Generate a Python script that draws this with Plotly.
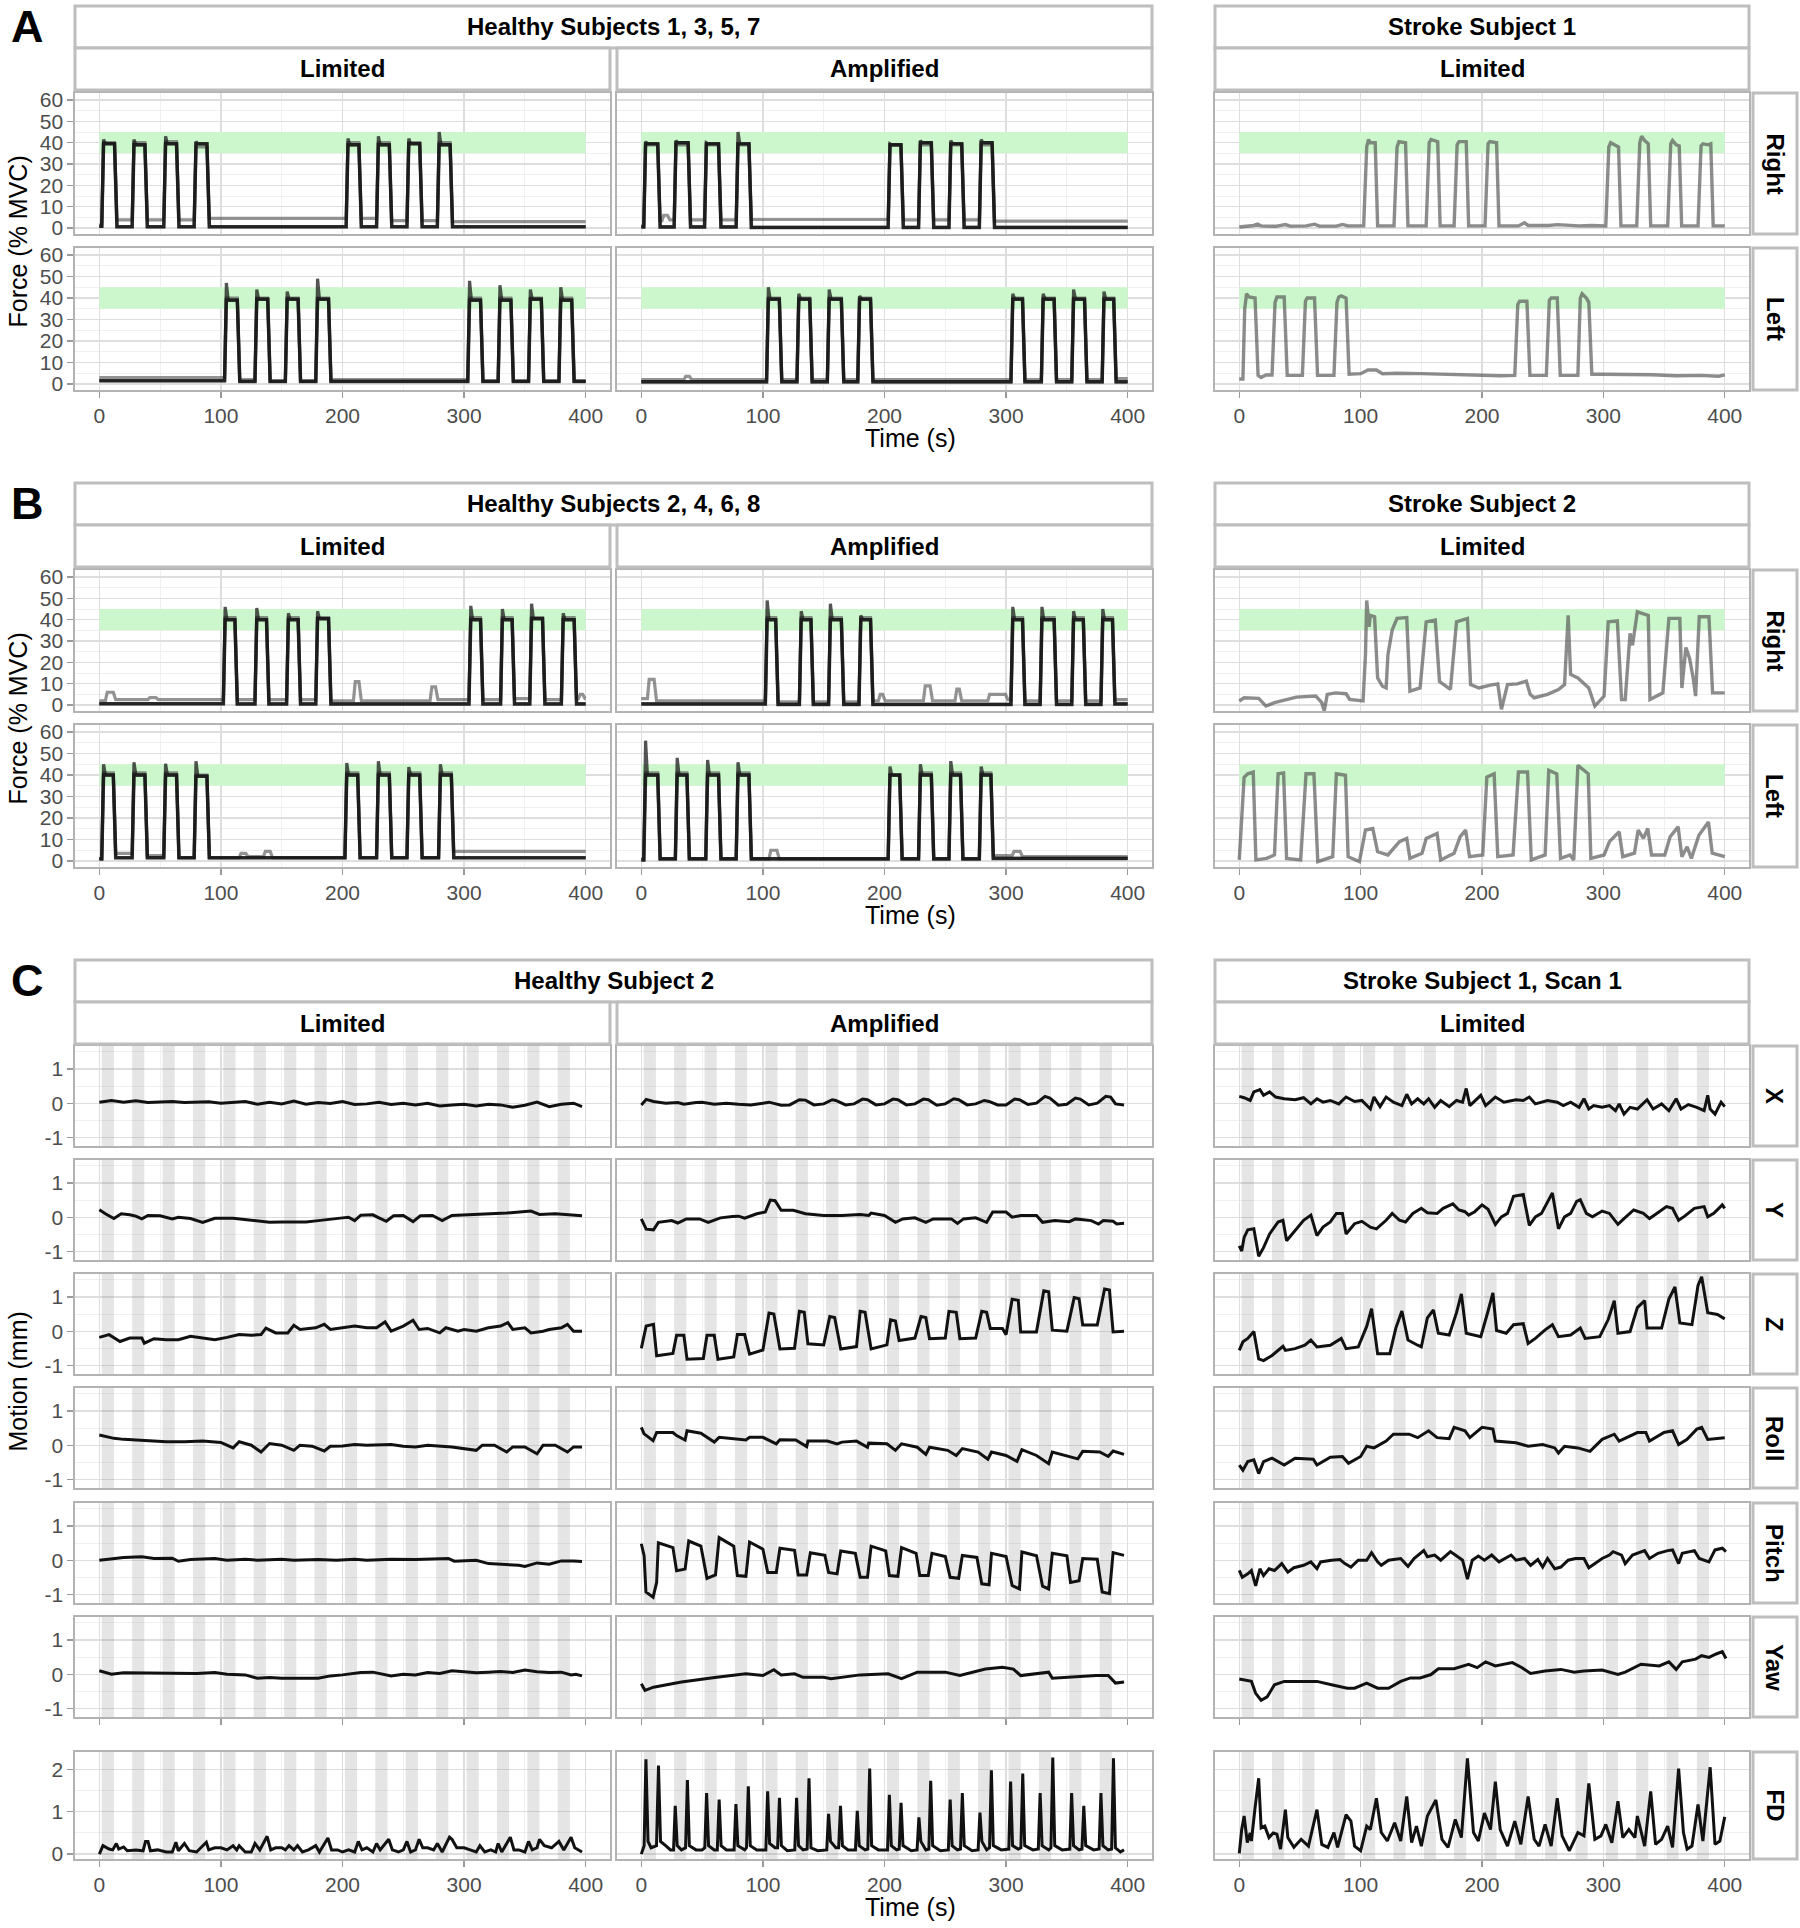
import plotly.graph_objects as go

W, H = 1800, 1928
FONT = "Liberation Sans, Arial, Helvetica, sans-serif"

# ------------------------------------------------------------------ data
X_TICKS = [0, 100, 200, 300, 400]
X_MINOR = [50, 150, 250, 350]
FORCE_TICKS = [0, 10, 20, 30, 40, 50, 60]
FORCE_MINOR = [5, 15, 25, 35, 45, 55]
MOTION_TICKS = [-1, 0, 1]
MOTION_MINOR = [-0.5, 0.5, 1.5]
FD_TICKS = [0, 1, 2]
FD_MINOR = [0.5, 1.5]
TARGET_LO, TARGET_HI = 35, 45
BAND_ON = [2, 27, 52, 77, 102, 127, 152, 177, 202, 227, 252, 277, 302, 327, 352, 377]
BAND_OFF = [12, 37, 62, 87, 112, 137, 162, 187, 212, 237, 262, 287, 312, 337, 362, 387]

# ---- Panel A, healthy subjects 1,3,5,7 : block onsets / offsets / levels (% MVC)
A_LR_ON = [2, 27, 53, 78, 203, 228, 253, 278]
A_LR_OFF = [13, 38, 64, 89, 214, 239, 264, 289]
A_LR_DK_BASE = [0.8, 0.6, 0.6, 0.6, 0.6, 0.6, 0.6, 0.6, 0.6]
A_LR_DK_TOP = [39.5, 39, 39.5, 39.5, 39, 39, 39.5, 39]
A_LR_DK_PEAK = [41.5, 41.5, 43, 40.5, 42, 43, 42, 45]
A_LR_GR_ON = A_LR_ON
A_LR_GR_OFF = A_LR_OFF
A_LR_GR_BASE = [1.5, 3.8, 3.8, 3.8, 4.5, 4.5, 3.5, 3.5, 3]
A_LR_GR_TOP = [40, 40, 40.5, 38, 40, 40, 40, 40]

A_LL_ON = [103, 128, 153, 178, 303, 328, 353, 378]
A_LL_OFF = [114, 139, 164, 189, 314, 339, 364, 389]
A_LL_DK_BASE = [1.5, 1.2, 1.2, 1.2, 1.2, 1.2, 1.2, 1.2, 1.2]
A_LL_DK_TOP = [39, 39.5, 39.5, 39.5, 39, 39, 39.5, 39]
A_LL_DK_PEAK = [47, 44, 43, 49, 48, 46, 44, 45]
A_LL_GR_ON = A_LL_ON
A_LL_GR_OFF = A_LL_OFF
A_LL_GR_BASE = [3, 2, 1.5, 1.5, 2, 1.5, 1.5, 1.5, 1.5]
A_LL_GR_TOP = [40, 40, 40, 40, 40, 40, 40, 40]

A_AR_ON = [2, 27, 52, 78, 203, 228, 253, 278]
A_AR_OFF = [14, 39, 64, 89, 214, 239, 264, 289]
A_AR_DK_BASE = [0.5, 0.5, 0.5, 0.5, 0.3, 0.3, 0.3, 0.3, 0.3]
A_AR_DK_TOP = [39.5, 40, 39.5, 39.5, 39, 40, 39.5, 40]
A_AR_DK_PEAK = [40.5, 41, 40, 45, 39.5, 41, 41, 41.5]
A_AR_GR_ON = [2, 17, 27, 52, 78, 203, 228, 253, 278]
A_AR_GR_OFF = [14, 22, 39, 64, 89, 214, 239, 264, 289]
A_AR_GR_BASE = [1, 3.5, 3.8, 3.8, 3.8, 4, 3.8, 3.8, 3.8, 3.2]
A_AR_GR_TOP = [39, 6, 39, 39, 39, 39, 39, 39, 39]

A_AL_ON = [103, 128, 153, 178, 304, 329, 354, 379]
A_AL_OFF = [114, 139, 165, 189, 314, 340, 365, 389]
A_AL_DK_BASE = [1, 1, 1, 1, 1, 1, 1, 1, 1]
A_AL_DK_TOP = [39.5, 39.5, 39.5, 39.5, 39.5, 39.5, 39.5, 39.5]
A_AL_DK_PEAK = [45, 42, 44, 41, 42, 42, 44, 43]
A_AL_GR_ON = [35, 103, 128, 153, 178, 304, 329, 354, 379]
A_AL_GR_OFF = [40, 114, 139, 165, 189, 314, 340, 365, 389]
A_AL_GR_BASE = [2, 2, 2, 2, 2, 2, 2, 2, 2, 2.5]
A_AL_GR_TOP = [3.5, 40, 40, 40, 40, 40, 40, 40, 40]

# ---- Panel B, healthy subjects 2,4,6,8
B_LR_ON = [102, 128, 154, 178, 304, 330, 354, 380]
B_LR_OFF = [112, 138, 164, 189, 314, 340, 365, 391]
B_LR_DK_BASE = [0.6, 0.5, 0.5, 0.5, 0.5, 0.5, 0.5, 0.5, 0.5]
B_LR_DK_TOP = [40, 40, 40, 40.5, 40, 40, 40.5, 40]
B_LR_DK_PEAK = [46, 45.5, 43, 44, 46.5, 45, 47.5, 43]
B_LR_GR_ON = [5, 40, 102, 128, 154, 178, 209, 272, 304, 330, 354, 380, 394]
B_LR_GR_OFF = [12, 47, 112, 138, 164, 189, 214, 277, 314, 340, 365, 391, 398]
B_LR_GR_BASE = [2, 2.5, 2.5, 2.5, 2.5, 2.5, 2, 2, 2.5, 2.5, 3, 2.5, 3, 3]
B_LR_GR_TOP = [6, 3.5, 41, 41, 41, 41, 11, 8.5, 41, 41, 41, 41, 5]

B_LL_ON = [2, 27, 53, 78, 202, 228, 253, 279]
B_LL_OFF = [12, 38, 64, 89, 213, 239, 264, 290]
B_LL_DK_BASE = [1, 1.5, 1.5, 1.5, 1.5, 1.5, 1.5, 1.5, 1.5]
B_LL_DK_TOP = [40, 40, 40, 39.5, 40, 40, 40, 40]
B_LL_DK_PEAK = [45, 46, 45.3, 46.4, 45.6, 46.4, 43.7, 45]
B_LL_GR_ON = [2, 27, 53, 78, 115, 135, 202, 228, 253, 279]
B_LL_GR_OFF = [12, 38, 64, 89, 121, 141, 213, 239, 264, 290]
B_LL_GR_BASE = [1, 3.5, 2.5, 1.5, 1.5, 2, 1.5, 1.5, 1.5, 1.5, 4.5]
B_LL_GR_TOP = [41, 41, 41, 40, 3.5, 4.5, 41, 41, 41, 41]

B_AR_ON = [102, 130, 154, 179, 304, 328, 354, 378]
B_AR_OFF = [111, 140, 165, 189, 314, 340, 364, 388]
B_AR_DK_BASE = [0.5, 0.3, 0.3, 0.3, 0.3, 0.3, 0.3, 0.3, 0.5]
B_AR_DK_TOP = [40, 40, 40, 40, 40, 40, 40, 40]
B_AR_DK_PEAK = [49, 44, 47.5, 42, 46, 46, 44, 45]
B_AR_GR_ON = [5, 102, 130, 154, 179, 195, 232, 258, 285, 304, 328, 354, 378]
B_AR_GR_OFF = [11, 111, 140, 165, 189, 199, 238, 262, 300, 314, 340, 364, 388]
B_AR_GR_BASE = [3, 2, 1.5, 1.5, 1.5, 2, 2, 2, 2, 2.5, 2, 2, 2, 2.5]
B_AR_GR_TOP = [12, 41, 41, 41, 41, 5, 9, 7.5, 5, 41, 41, 41, 41]

B_AL_ON = [2, 28, 53, 78, 203, 228, 253, 278]
B_AL_OFF = [14, 38, 64, 89, 213, 239, 263, 288]
B_AL_DK_BASE = [0.5, 1, 1, 1, 1, 1, 1, 1, 1.2]
B_AL_DK_TOP = [40, 40, 40, 40, 40, 40, 40, 40]
B_AL_DK_PEAK = [56, 48, 47, 46, 44, 45, 46.5, 44]
B_AL_GR_ON = [2, 28, 53, 78, 105, 203, 228, 253, 278, 305]
B_AL_GR_OFF = [14, 38, 64, 89, 112, 213, 239, 263, 288, 312]
B_AL_GR_BASE = [1, 1, 1, 1, 1, 1, 1, 1, 1, 2.5, 2]
B_AL_GR_TOP = [41, 41, 41, 41, 5, 40, 41, 41, 41, 4.5]

# ---- stroke force traces (time s, % MVC)
S1_RIGHT = [(0, 0.5), (5, 0.8), (12, 1.2), (15, 1.8), (18, 1), (30, 0.8), (38, 1.6), (42, 0.9), (55, 1), (62, 1.8),
            (66, 0.9), (80, 0.9), (85, 1.7), (89, 1.1), (102.5, 1), (105, 38), (106.5, 41.5), (108, 40), (112, 40),
            (114, 1), (127.5, 1), (130, 38), (131.5, 40.5), (137, 40), (139, 1), (154, 1), (156.5, 40), (158, 41.5),
            (163.5, 40.5), (165.5, 1), (177, 1), (179.5, 39), (181, 40.5), (187, 40.5), (189, 1), (202.5, 1),
            (205, 39.5), (206.5, 40.5), (212, 40), (214, 1), (230, 1), (235, 2.5), (238, 1.2), (255, 1.2),
            (262, 1.6), (280, 1), (290, 1.2), (302, 1), (304.5, 38), (306, 40), (310, 38.5), (312.5, 38),
            (314.5, 1), (327.5, 1), (330, 40), (331.5, 43), (334, 41), (337, 39.5), (339, 1), (353, 1),
            (355.5, 39.5), (357, 41), (360, 39), (362.5, 38.5), (364.5, 1), (378, 1), (380.5, 38.5), (382, 39.5),
            (386.5, 39), (388.5, 39.5), (390.5, 1), (400, 1)]
S1_LEFT = [(0, 2.3), (3, 2.3), (4.5, 35), (6, 42), (8, 40.5), (13, 40), (15.5, 4), (18, 3), (22, 4.2), (27, 4.2),
           (29.5, 38), (31, 40.5), (37, 40.5), (39.5, 4), (52, 4), (54.5, 38.5), (56, 40), (62, 40), (64.5, 4),
           (78, 4), (80.5, 38), (82, 40.5), (84, 41), (88, 40), (90.5, 4.5), (100, 4.8), (106, 6.5), (113, 6.5),
           (118, 4.8), (130, 5), (150, 4.8), (170, 4.5), (190, 4.2), (200, 3.8), (215, 3.8), (227, 4),
           (229.5, 37), (231, 38.5), (237, 38.5), (239.5, 4), (253, 4), (255.5, 39), (257, 40), (262, 40),
           (264.5, 4), (279, 4), (281, 40), (282.5, 42), (286, 40), (288, 38), (290.5, 4.5), (300, 4.5),
           (320, 4.5), (340, 4.3), (360, 3.8), (380, 4), (395, 3.6), (400, 4.2)]
S2_RIGHT = [(0, 1.9), (4, 3.4), (16, 3.1), (22, -0.5), (29, 1.1), (47, 3.7), (63, 4.2), (68, 1.1), (70, -2.8),
            (72.5, 5), (79, 5.7), (88, 5.3), (91, 2.6), (102, 1.9), (104, 23.6), (105, 49), (107, 36.7), (108, 42),
            (111.5, 41.4), (114, 12.7), (118, 8.8), (121, 8), (122.5, 23.6), (126, 35.2), (130, 40.6), (138, 41),
            (140.6, 6.5), (149, 8), (154, 39), (161.5, 39.8), (165, 11), (174, 7.3), (179, 39), (188, 40.6),
            (190.6, 9.6), (197.5, 8), (207, 9.3), (213, 9.9), (216, -2), (221, 9.6), (229, 9.9), (236.5, 11.2),
            (239.7, 5), (243, 3.4), (254, 5), (263, 7.3), (268, 9.6), (271, 42), (273, 14.3), (279, 12.7),
            (288, 8), (293, -0.5), (300.6, 4.2), (304, 39), (311.5, 39.4), (315, 2.6), (318, 2.6), (322, 33.6),
            (324, 28), (328, 43.7), (337, 42), (338.4, 2.6), (349, 5.7), (354, 40.6), (363, 40.6), (364.7, 8),
            (368, 27), (371, 22), (374, 12.7), (376, 4.2), (379, 41.4), (387, 41.4), (390, 5.7), (400, 5.7)]
S2_LEFT = [(0, 0.5), (4, 39), (7, 40.6), (11.5, 41.4), (13.7, 0.5), (22.5, 1.2), (29, 2.8), (32, 40.6),
           (36.5, 41), (39, 1.2), (50.6, 0.5), (55, 40.6), (61.5, 40.6), (64.7, -0.3), (77, 2), (80, 40.6),
           (87.5, 39.9), (89.7, 2), (99, -0.3), (104, 14.4), (110, 15.1), (114, 4.3), (122.5, 2.8), (132, 9),
           (138, 10.5), (140.6, 1.2), (150.6, 3.6), (154, 10.5), (163, 12.8), (166, 0.5), (177, 3.6), (182, 11.3),
           (186.5, 14.4), (189.7, 2), (200.6, 2.8), (204, 39), (210, 40.6), (213, 2), (225.6, 2.8), (230, 41.4),
           (237.5, 41.4), (240.6, 0.5), (252, 2.8), (255, 42.2), (261.6, 40.6), (264.7, 1.2), (272.5, 2.8),
           (275.6, 0.5), (279, 44.5), (287.5, 40.6), (289.7, 1.2), (300.6, 2.8), (305, 9), (313, 13.6), (316, 2),
           (325.6, 3.6), (328.7, 14.4), (333, 10.5), (336.6, 15.1), (339.7, 2.8), (350.6, 2.8), (355, 11.3),
           (361.6, 15.9), (364.7, 2), (369, 6.6), (372.5, 1.2), (378.7, 12), (386.6, 18.2), (389.7, 3.6), (400, 2)]

# ---- Panel C, motion (time s, mm) : healthy subject 2, limited
HL_X = [(0, 0.03), (10, 0.08), (20, 0.03), (30, 0.07), (40, 0.02), (50, 0.03), (60, 0.05), (70, 0.02), (80, 0.04),
        (90, 0.04), (100, 0.0), (110, 0.02), (120, 0.05), (130, -0.03), (140, 0.03), (150, -0.02), (160, 0.06),
        (170, -0.03), (180, 0.02), (190, -0.01), (200, 0.05), (210, -0.04), (220, -0.02), (230, 0.03),
        (240, -0.04), (250, 0.0), (260, -0.05), (270, 0.0), (280, -0.08), (290, -0.05), (300, -0.03),
        (310, -0.08), (320, -0.03), (330, -0.05), (340, -0.12), (350, -0.06), (360, 0.03), (370, -0.1),
        (380, -0.03), (390, 0.0), (397, -0.1)]
HL_Y = [(0, 0.22), (5, 0.1), (12, -0.04), (18, 0.1), (25, 0.07), (30, 0.03), (35, -0.05), (40, 0.05), (50, 0.04),
        (55, 0.0), (60, -0.05), (65, 0.0), (75, -0.04), (85, -0.15), (95, -0.03), (110, -0.03), (120, -0.07),
        (130, -0.1), (140, -0.15), (150, -0.14), (160, -0.13), (170, -0.14), (180, -0.1), (190, -0.07),
        (200, -0.02), (205, 0.0), (210, -0.1), (215, 0.06), (225, 0.07), (230, -0.02), (236, -0.12), (242, 0.04),
        (250, 0.05), (258, -0.13), (264, 0.04), (274, 0.05), (282, -0.1), (290, 0.05), (310, 0.08), (335, 0.12),
        (355, 0.18), (362, 0.08), (375, 0.1), (388, 0.07), (397, 0.04)]
HL_Z = [(0, -0.18), (8, -0.1), (17, -0.3), (25, -0.2), (35, -0.2), (37, -0.35), (45, -0.22), (55, -0.25),
        (65, -0.25), (75, -0.15), (85, -0.2), (95, -0.25), (105, -0.18), (115, -0.1), (125, -0.12), (133, -0.1),
        (137, 0.09), (145, -0.05), (155, -0.05), (160, 0.17), (165, 0.05), (178, 0.1), (185, 0.2), (190, 0.05),
        (200, 0.1), (210, 0.15), (220, 0.1), (228, 0.1), (235, 0.27), (240, 0.0), (250, 0.15), (258, 0.32),
        (263, 0.05), (270, 0.08), (280, -0.05), (285, 0.1), (295, 0.0), (300, 0.05), (310, 0.0), (320, 0.1),
        (330, 0.15), (336, 0.25), (340, 0.05), (350, 0.1), (355, -0.05), (365, 0.0), (370, 0.05), (380, 0.1),
        (385, 0.2), (390, 0.0), (397, 0.0)]
HL_ROLL = [(0, 0.3), (12, 0.2), (20, 0.17), (40, 0.12), (55, 0.1), (70, 0.1), (85, 0.12), (100, 0.08),
           (110, -0.08), (115, 0.1), (125, 0.0), (133, -0.2), (140, 0.05), (150, 0.0), (160, -0.15), (165, 0.0),
           (175, -0.03), (185, -0.17), (190, -0.03), (200, -0.02), (210, 0.02), (220, 0.0), (240, 0.02),
           (250, -0.03), (260, -0.05), (270, 0.0), (280, -0.03), (290, -0.05), (310, -0.15), (315, 0.0),
           (325, 0.0), (335, -0.2), (340, -0.05), (350, -0.05), (360, -0.25), (365, 0.0), (375, 0.0),
           (385, -0.2), (390, -0.05), (397, -0.05)]
HL_PITCH = [(0, 0.0), (10, 0.05), (20, 0.08), (35, 0.1), (45, 0.05), (60, 0.06), (65, -0.03), (75, 0.02),
            (95, 0.05), (105, 0.0), (120, 0.03), (130, 0.0), (150, 0.03), (160, 0.0), (180, 0.02), (195, 0.0),
            (210, 0.03), (220, 0.0), (240, 0.03), (260, 0.02), (280, 0.03), (287, 0.05), (292, -0.03),
            (300, -0.02), (310, 0.0), (320, -0.1), (335, -0.12), (345, -0.15), (350, -0.18), (360, -0.08),
            (370, -0.12), (380, -0.02), (390, -0.02), (397, -0.04)]
HL_YAW = [(0, 0.1), (10, 0.0), (20, 0.04), (40, 0.04), (60, 0.02), (80, 0.02), (95, 0.05), (105, 0.0),
          (120, -0.02), (130, -0.12), (140, -0.1), (150, -0.12), (170, -0.12), (180, -0.12), (190, -0.05),
          (200, -0.02), (215, 0.05), (225, 0.06), (240, -0.05), (250, 0.0), (260, -0.02), (270, 0.05), (280, 0.02),
          (290, 0.1), (300, 0.07), (310, 0.04), (320, 0.06), (330, 0.08), (340, 0.05), (350, 0.12), (360, 0.07),
          (370, 0.05), (380, 0.06), (388, -0.02), (392, 0.0), (397, -0.05)]
HL_FD = [(0, 0.0), (3, 0.2), (8, 0.12), (11, 0.1), (14, 0.25), (16, 0.12), (20, 0.17), (23, 0.08), (30, 0.1),
         (36, 0.08), (38, 0.3), (40, 0.3), (42, 0.08), (48, 0.1), (55, 0.05), (60, 0.05), (63, 0.28), (65, 0.08),
         (70, 0.25), (74, 0.08), (80, 0.05), (88, 0.28), (90, 0.1), (95, 0.15), (100, 0.15), (105, 0.1),
         (110, 0.2), (113, 0.1), (115, 0.2), (120, 0.05), (125, 0.05), (128, 0.25), (132, 0.1), (138, 0.42),
         (141, 0.1), (145, 0.15), (150, 0.15), (153, 0.1), (156, 0.2), (160, 0.1), (163, 0.2), (167, 0.05),
         (172, 0.1), (178, 0.2), (181, 0.05), (188, 0.38), (191, 0.1), (196, 0.1), (200, 0.05), (205, 0.1),
         (210, 0.05), (213, 0.3), (216, 0.1), (220, 0.15), (225, 0.05), (228, 0.25), (231, 0.1), (238, 0.35),
         (241, 0.1), (246, 0.05), (250, 0.1), (253, 0.3), (256, 0.05), (260, 0.1), (263, 0.35), (266, 0.15),
         (270, 0.15), (275, 0.1), (278, 0.25), (282, 0.05), (288, 0.4), (290, 0.35), (294, 0.15), (300, 0.15),
         (305, 0.1), (310, 0.05), (313, 0.2), (317, 0.05), (322, 0.1), (326, 0.05), (328, 0.25), (331, 0.05),
         (338, 0.4), (341, 0.1), (345, 0.1), (350, 0.05), (353, 0.3), (356, 0.1), (360, 0.15), (362, 0.35),
         (366, 0.2), (372, 0.15), (378, 0.3), (382, 0.1), (388, 0.4), (391, 0.15), (397, 0.05)]

# ---- healthy subject 2, amplified
HA_X = [(0, -0.05), (4, 0.11), (10, 0.05), (20, 0.0), (30, 0.02), (35, -0.03), (45, 0.02), (50, 0.03),
        (60, -0.03), (70, 0.0), (80, -0.03), (90, -0.05), (100, 0.0), (105, 0.03), (115, -0.06), (122, -0.05),
        (130, 0.1), (135, 0.09), (142, -0.05), (150, -0.02), (157, 0.1), (160, 0.08), (168, -0.05), (175, -0.02),
        (182, 0.12), (186, 0.1), (193, -0.05), (200, -0.02), (207, 0.12), (211, 0.1), (218, -0.05),
        (225, -0.02), (232, 0.12), (236, 0.1), (243, -0.06), (250, -0.02), (257, 0.13), (261, 0.1),
        (268, -0.05), (275, -0.02), (282, 0.08), (286, 0.05), (293, -0.05), (300, -0.05), (307, 0.12),
        (311, 0.1), (318, -0.04), (325, 0.0), (332, 0.2), (336, 0.15), (343, -0.06), (350, -0.03), (357, 0.15),
        (361, 0.12), (368, -0.05), (375, 0.0), (382, 0.2), (386, 0.18), (390, -0.02), (397, -0.05)]
HA_Y = [(0, -0.05), (4, -0.35), (10, -0.37), (14, -0.15), (25, -0.1), (30, -0.17), (37, -0.05), (48, -0.05),
        (55, -0.15), (65, -0.02), (75, 0.02), (80, 0.03), (85, -0.03), (95, 0.1), (102, 0.15), (106, 0.5),
        (110, 0.48), (115, 0.2), (125, 0.2), (130, 0.15), (135, 0.1), (150, 0.05), (165, 0.05), (180, 0.08),
        (187, 0.05), (189, 0.12), (195, 0.08), (200, 0.05), (209, -0.15), (215, -0.05), (225, -0.02),
        (234, -0.15), (240, -0.05), (255, -0.05), (260, -0.18), (265, -0.05), (275, -0.02), (284, -0.15),
        (289, 0.15), (300, 0.15), (305, 0.0), (312, 0.05), (325, 0.05), (330, -0.15), (340, -0.1),
        (352, -0.13), (357, -0.05), (370, -0.1), (376, -0.2), (380, -0.1), (388, -0.12), (391, -0.2),
        (397, -0.18)]
HA_Z = [(0, -0.5), (4, 0.15), (10, 0.2), (12.6, -0.72), (26, -0.65), (29, -0.12), (35, -0.12), (37.6, -0.82),
        (51, -0.8), (54, -0.12), (60, -0.12), (63, -0.82), (76, -0.75), (79, -0.1), (85, -0.1), (89, -0.67),
        (100, -0.55), (105, 0.53), (109, 0.5), (114, -0.52), (126, -0.5), (130, 0.58), (134, 0.55),
        (137, -0.37), (150, -0.4), (155, 0.43), (159, 0.4), (164, -0.52), (177, -0.45), (180, 0.58),
        (184, 0.55), (189, -0.52), (202, -0.4), (205, 0.33), (209, 0.3), (212, -0.27), (225, -0.2), (230, 0.43),
        (234, 0.4), (237, -0.22), (250, -0.2), (253, 0.58), (259, 0.55), (262, -0.22), (275, -0.2), (280, 0.58),
        (284, 0.55), (287, 0.08), (297, 0.08), (300, -0.1), (305, 0.93), (310, 0.9), (312, -0.02), (325, -0.02),
        (331, 1.18), (335, 1.15), (338, 0.03), (350, 0.0), (356, 0.98), (360, 0.95), (363, 0.18), (375, 0.18),
        (381, 1.23), (385, 1.2), (388, -0.02), (397, 0.0)]
HA_ROLL = [(0, 0.52), (2.3, 0.33), (9.7, 0.13), (12.6, 0.37), (26, 0.37), (29, 0.28), (36, 0.15), (37.6, 0.42),
           (49, 0.35), (60, 0.09), (64, 0.23), (86, 0.15), (89, 0.23), (100, 0.23), (111, 0.04), (114, 0.16),
           (127, 0.15), (136, -0.04), (137, 0.12), (153, 0.12), (161, 0.04), (165, 0.09), (177, 0.12),
           (186, -0.06), (187, 0.06), (202, 0.04), (209, -0.15), (214, 0.04), (227, -0.06), (234, -0.27),
           (237, -0.06), (252, -0.15), (259, -0.3), (264, -0.1), (277, -0.2), (285, -0.41), (288, -0.2),
           (300, -0.3), (309, -0.47), (313, -0.13), (325, -0.3), (335, -0.54), (338, -0.2), (352, -0.33),
           (359, -0.4), (363, -0.18), (377, -0.2), (384, -0.33), (388, -0.17), (397, -0.27)]
HA_PITCH = [(0, 0.48), (2.3, 0.13), (3.8, -0.93), (9.7, -1.08), (12.6, -0.65), (14, 0.51), (26, 0.37),
            (29, -0.31), (36, -0.26), (39, 0.56), (49, 0.41), (54, -0.53), (61, -0.43), (64, 0.66), (76, 0.41),
            (79, -0.45), (86, -0.47), (89, 0.53), (100, 0.32), (104, -0.36), (111, -0.36), (114, 0.35),
            (126, 0.29), (129, -0.43), (136, -0.43), (139, 0.22), (151, 0.14), (154, -0.36), (161, -0.4),
            (164, 0.27), (176, 0.2), (180, -0.5), (186, -0.5), (189, 0.41), (201, 0.27), (204, -0.45),
            (211, -0.47), (214, 0.37), (226, 0.2), (229, -0.45), (236, -0.45), (239, 0.2), (250, 0.11),
            (254, -0.5), (261, -0.53), (264, 0.14), (276, 0.08), (280, -0.69), (286, -0.72), (288, 0.2),
            (300, 0.11), (305, -0.74), (311, -0.84), (313, 0.24), (325, 0.13), (330, -0.76), (335, -0.84),
            (338, 0.2), (350, 0.13), (353, -0.65), (360, -0.6), (363, 0.05), (375, 0.03), (379, -0.93),
            (385, -0.98), (388, 0.22), (397, 0.14)]
HA_YAW = [(0, -0.28), (3, -0.47), (10, -0.38), (33, -0.23), (62, -0.09), (86, 0.01), (100, -0.04), (109, 0.13),
          (115, -0.02), (126, 0.01), (133, -0.09), (150, -0.09), (156, -0.13), (180, -0.02), (203, 0.01),
          (214, -0.13), (227, 0.06), (250, 0.06), (262, -0.04), (283, 0.15), (297, 0.2), (306, 0.15),
          (312, -0.04), (335, 0.06), (338, -0.12), (350, -0.09), (362, -0.06), (374, -0.04), (384, -0.04),
          (390, -0.26), (397, -0.23)]
HA_FD = [(0, 0.0), (2.3, 0.2), (3.8, 2.24), (5.5, 0.3), (8, 0.15), (12.5, 0.2), (14.1, 2.09), (15.8, 0.3),
         (20, 0.2), (24, 0.1), (26.5, 0.1), (27.9, 1.14), (29.5, 0.2), (33, 0.1), (36.4, 0.15), (37.9, 1.75),
         (39.5, 0.2), (45, 0.1), (50, 0.1), (52.2, 0.15), (53.7, 1.44), (55.3, 0.2), (60, 0.1), (62.5, 0.1),
         (64, 1.29), (65.6, 0.2), (70, 0.1), (76.3, 0.1), (77.8, 1.18), (79.4, 0.2), (85, 0.1), (86.5, 0.15),
         (88, 1.6), (89.6, 0.2), (95, 0.1), (102.4, 0.1), (103.9, 1.48), (105.5, 0.25), (110, 0.15),
         (112.1, 0.15), (113.6, 1.33), (115.2, 0.2), (120, 0.08), (126.2, 0.1), (127.7, 1.33), (129.3, 0.2),
         (133, 0.1), (136.4, 0.12), (137.9, 1.79), (139.5, 0.15), (145, 0.08), (152.5, 0.1), (154, 0.95),
         (155.6, 0.3), (160, 0.15), (162.3, 0.15), (163.8, 1.14), (165.4, 0.2), (170, 0.1), (176.1, 0.1),
         (177.6, 1.02), (179.2, 0.2), (184, 0.1), (186.3, 0.12), (187.8, 2.02), (189.4, 0.2), (195, 0.1),
         (202.5, 0.1), (204, 1.4), (205.6, 0.2), (210, 0.1), (212.1, 0.12), (213.6, 1.21), (215.2, 0.2),
         (222, 0.08), (226.8, 0.1), (228.3, 0.87), (229.9, 0.3), (234, 0.1), (236.5, 0.12), (238, 1.73),
         (239.6, 0.2), (246, 0.08), (252.5, 0.1), (254, 1.29), (255.6, 0.2), (260, 0.1), (262.5, 0.12),
         (264, 1.44), (265.6, 0.2), (272, 0.08), (277, 0.1), (278.5, 0.98), (280.1, 0.3), (284, 0.1),
         (286.4, 0.15), (287.9, 1.98), (289.5, 0.2), (296, 0.1), (302.2, 0.12), (303.7, 1.71), (305.3, 0.2),
         (310, 0.12), (312.2, 0.15), (313.7, 1.9), (315.3, 0.2), (322, 0.1), (326.5, 0.12), (328, 1.44),
         (329.6, 0.2), (335, 0.1), (336.9, 0.15), (338.4, 2.28), (340, 0.2), (346, 0.1), (352.4, 0.12),
         (353.9, 1.44), (355.5, 0.2), (360, 0.1), (362.4, 0.12), (363.9, 1.14), (365.5, 0.2), (372, 0.1),
         (376.5, 0.12), (378, 1.44), (379.6, 0.2), (384, 0.1), (386.8, 0.12), (388.3, 2.26), (389.9, 0.15),
         (394, 0.05), (397, 0.1)]

# ---- stroke subject 1, scan 1, limited
SL_X = [(0, 0.2), (4, 0.16), (9, 0.08), (12, 0.33), (17, 0.4), (20, 0.23), (25, 0.33), (30, 0.18), (37, 0.13),
        (46, 0.1), (53, 0.16), (59, -0.02), (64, 0.13), (69, 0.03), (75, 0.08), (82, -0.02), (88, 0.18),
        (95, 0.05), (101, 0.08), (108, -0.17), (111, 0.18), (116, -0.1), (121, 0.18), (127, 0.03), (134, -0.07),
        (138, 0.26), (142, -0.02), (147, 0.13), (152, -0.02), (156, 0.13), (161, -0.12), (166, 0.08),
        (173, -0.1), (179, 0.08), (184, 0.03), (187, 0.43), (190, -0.07), (199, 0.23), (203, -0.07), (211, 0.18),
        (218, 0.03), (228, 0.1), (234, 0.08), (239, 0.18), (244, -0.02), (254, 0.08), (262, 0.03), (267, -0.07),
        (273, 0.03), (280, -0.12), (284, 0.13), (288, -0.17), (292, -0.07), (299, -0.12), (305, -0.07),
        (310, -0.22), (313, -0.02), (317, -0.32), (322, -0.12), (328, -0.17), (336, 0.1), (341, -0.17),
        (348, -0.02), (354, -0.22), (360, 0.13), (364, -0.17), (370, -0.04), (377, -0.12), (383, -0.22),
        (386, 0.23), (388, -0.17), (392, -0.32), (397, 0.03), (400, -0.1)]
SL_Y = [(0, -0.84), (2, -0.99), (4, -0.59), (7, -0.37), (12, -0.34), (16, -1.14), (20, -0.89), (25, -0.49),
        (32, -0.14), (36, -0.09), (39, -0.69), (45, -0.44), (53, -0.09), (59, 0.06), (64, -0.54), (69, -0.29),
        (75, -0.14), (80, 0.11), (85, 0.11), (88, -0.49), (95, -0.19), (101, -0.12), (108, -0.29), (113, -0.34),
        (121, -0.09), (126, 0.11), (132, -0.09), (137, -0.14), (143, 0.11), (150, 0.26), (155, 0.13),
        (163, 0.11), (168, 0.26), (176, 0.39), (181, 0.21), (186, 0.16), (189, 0.06), (194, 0.16), (200, 0.36),
        (205, 0.23), (211, -0.21), (216, 0.01), (221, 0.11), (226, 0.61), (234, 0.66), (239, -0.24),
        (244, 0.01), (249, 0.11), (254, 0.46), (258, 0.71), (263, -0.34), (268, 0.01), (273, 0.11), (278, 0.46),
        (281, 0.51), (286, 0.11), (291, 0.01), (299, 0.18), (305, 0.11), (312, -0.21), (317, -0.04),
        (325, 0.21), (333, 0.11), (338, -0.04), (344, 0.11), (352, 0.31), (357, 0.26), (362, -0.09),
        (367, 0.03), (375, 0.26), (383, 0.31), (386, 0.01), (391, 0.11), (398, 0.36), (400, 0.26)]
SL_Z = [(0, -0.56), (3, -0.31), (7, -0.21), (12, -0.01), (16, -0.81), (20, -0.86), (27, -0.71), (32, -0.56),
        (36, -0.44), (38, -0.56), (46, -0.51), (54, -0.41), (59, -0.26), (64, -0.46), (75, -0.41), (84, -0.21),
        (88, -0.51), (98, -0.46), (105, 0.14), (109, 0.66), (114, -0.66), (124, -0.66), (129, 0.09),
        (134, 0.59), (139, -0.26), (147, -0.41), (150, -0.46), (155, 0.39), (160, 0.62), (164, -0.06),
        (173, -0.11), (179, 0.54), (183, 1.09), (187, -0.06), (199, -0.16), (205, 0.59), (209, 1.12),
        (212, 0.02), (220, -0.06), (226, 0.19), (234, 0.22), (238, -0.36), (244, -0.21), (252, 0.04),
        (258, 0.19), (263, -0.16), (273, -0.11), (281, 0.09), (285, -0.21), (297, -0.16), (304, 0.34),
        (309, 0.89), (312, -0.06), (322, -0.01), (328, 0.69), (334, 0.89), (336, 0.09), (348, 0.09),
        (354, 0.94), (359, 1.29), (363, 0.24), (373, 0.19), (378, 1.34), (381, 1.59), (386, 0.54), (394, 0.49),
        (400, 0.36)]
SL_ROLL = [(0, -0.58), (3, -0.73), (7, -0.48), (12, -0.43), (16, -0.83), (20, -0.48), (27, -0.38), (37, -0.58),
           (46, -0.38), (61, -0.41), (64, -0.58), (75, -0.35), (85, -0.33), (90, -0.53), (100, -0.33),
           (105, -0.03), (111, -0.08), (121, 0.12), (127, 0.32), (140, 0.32), (147, 0.22), (156, 0.42),
           (163, 0.22), (173, 0.19), (177, 0.52), (186, 0.42), (190, 0.22), (200, 0.52), (209, 0.47), (211, 0.12),
           (228, 0.07), (238, -0.03), (250, 0.02), (260, -0.08), (263, -0.23), (268, -0.03), (279, -0.08),
           (289, -0.18), (299, 0.17), (309, 0.32), (313, 0.12), (328, 0.37), (335, 0.37), (338, 0.12),
           (350, 0.37), (357, 0.42), (362, 0.02), (369, 0.17), (377, 0.47), (381, 0.52), (386, 0.17), (400, 0.22)]
SL_PITCH = [(0, -0.3), (2.5, -0.5), (7, -0.4), (10, -0.3), (13.5, -0.75), (17, -0.25), (20, -0.45),
            (24.5, -0.25), (29, -0.3), (35, -0.1), (40, -0.35), (45, -0.22), (53, -0.15), (59, -0.05),
            (64, -0.25), (67, -0.05), (76, 0.0), (83, 0.02), (87, -0.1), (92, -0.2), (98, 0.0), (105, 0.0),
            (109, 0.22), (114, -0.05), (117, -0.15), (123, 0.0), (133, 0.05), (139, -0.18), (144, 0.05),
            (152, 0.28), (155, 0.1), (161, 0.15), (166, 0.0), (174, 0.25), (178, 0.15), (184, 0.0), (188, -0.55),
            (192, 0.0), (197, 0.12), (202, 0.0), (208, 0.15), (214, -0.05), (224, 0.15), (228, 0.0), (235, 0.05),
            (240, -0.15), (246, 0.02), (250, -0.2), (254, 0.05), (260, -0.25), (265, -0.2), (271, 0.0),
            (277, 0.05), (284, 0.05), (288, -0.22), (293, -0.1), (299, 0.05), (305, 0.15), (308, 0.25),
            (315, 0.15), (318, -0.1), (324, 0.15), (334, 0.28), (338, 0.05), (345, 0.2), (353, 0.28), (357, 0.3),
            (362, -0.1), (365, 0.2), (375, 0.28), (379, 0.05), (387, -0.05), (392, 0.3), (398, 0.35), (401, 0.25)]
SL_YAW = [(0, -0.14), (10, -0.21), (13.5, -0.56), (18, -0.76), (23, -0.66), (29, -0.31), (37, -0.21),
          (48, -0.21), (64, -0.21), (76, -0.31), (89, -0.41), (95, -0.41), (105, -0.26), (114, -0.41),
          (123, -0.41), (133, -0.21), (141, -0.11), (149, -0.11), (158, -0.01), (164, 0.16), (177, 0.16),
          (189, 0.29), (196, 0.19), (203, 0.36), (211, 0.24), (225, 0.34), (233, 0.19), (240, 0.02), (252, 0.09),
          (265, 0.14), (276, 0.06), (284, 0.09), (299, 0.12), (312, -0.01), (318, 0.06), (331, 0.29),
          (346, 0.24), (354, 0.36), (360, 0.14), (365, 0.36), (376, 0.44), (381, 0.54), (387, 0.49), (393, 0.59),
          (398, 0.66), (401, 0.46)]
SL_FD = [(0, 0.02), (2, 0.58), (4, 0.9), (6.6, 0.27), (9, 0.5), (10, 0.31), (13, 1.09), (16, 1.79), (18, 0.62),
         (21, 0.66), (24.5, 0.39), (28, 0.5), (31, 0.47), (34, 0.12), (38, 1.05), (40, 0.39), (45, 0.16),
         (51, 0.35), (57, 0.19), (64, 1.05), (68, 0.23), (73, 0.16), (78, 0.51), (81, 0.16), (88, 0.93),
         (92, 0.78), (95, 0.19), (100, 0.08), (105, 0.66), (108, 0.58), (113, 1.32), (117, 0.51), (122, 0.31),
         (128, 0.74), (133, 0.31), (138, 1.36), (142, 0.27), (146, 0.66), (150, 0.19), (155, 0.9), (162, 1.28),
         (167, 0.35), (172, 0.16), (178, 0.82), (183, 0.39), (188, 2.26), (193, 0.51), (197, 0.31), (202, 0.97),
         (207, 0.58), (211, 1.71), (215, 0.58), (221, 0.19), (227, 0.78), (232, 0.23), (238, 1.36), (243, 0.35),
         (247, 0.19), (252, 0.7), (257, 0.19), (262, 1.32), (266, 0.43), (272, 0.08), (279, 0.51), (284, 0.43),
         (288, 1.67), (293, 0.35), (298, 0.43), (302, 0.7), (307, 0.27), (312, 1.25), (316, 0.39), (321, 0.58),
         (326, 0.39), (328, 0.9), (334, 0.19), (339, 1.48), (343, 0.23), (348, 0.35), (353, 0.66), (357, 0.16),
         (362, 2.02), (366, 0.51), (369, 0.12), (373, 0.19), (378, 1.17), (382, 0.31), (388, 2.05), (392, 0.23),
         (396, 0.31), (400, 0.88)]

# ------------------------------------------------------------------ helpers
COLS = [(75, 610), (617, 1152), (1215, 1749)]
RSTRIP = (1753, 1797)
GRID = "#DEDEDE"
MINOR = "#EEEEEE"
BORDER = "#B3B3B3"
STRIPLINE = "#BEBEBE"
TICKFONT = dict(family=FONT, size=21, color="#4D4D4D")
X_RANGE = [-20, 420]
YKIND = {
    "force": ([-2.8, 63.3], FORCE_TICKS, FORCE_MINOR),
    "motion": ([-1.25, 1.67], MOTION_TICKS, MOTION_MINOR),
    "fd": ([-0.115, 2.41], FD_TICKS, FD_MINOR),
}

GRAY_H = "rgba(80,80,80,0.62)"
DARK = "rgba(18,18,18,0.72)"
STROKE_C = "rgba(85,85,85,0.68)"
MOTION_C = "#111111"


def steps(on, off, base, top, peak):
    xs, ys = [0.0], [base[0]]
    for j in range(len(on)):
        a, b = on[j], off[j]
        xs += [a, a + 1.5, a + 3.0, b - 0.5, b + 1.5]
        ys += [base[j], peak[j], top[j], top[j], base[j + 1]]
    xs.append(400.0)
    ys.append(base[-1])
    return xs, ys


def unzip(pairs):
    return [p[0] for p in pairs], [p[1] for p in pairs]


fig = go.Figure()
layout = {}
shapes = []
annotations = []
counter = [0]


def make_panel(col, ytop, ybot, kind, xlabels, xticks, ylabels):
    counter[0] += 1
    k = counter[0]
    sfx = "" if k == 1 else str(k)
    x0, x1 = COLS[col]
    yr, yt, ym = YKIND[kind]
    layout["xaxis" + sfx] = dict(
        domain=[x0 / W, x1 / W], anchor="y" + sfx, range=X_RANGE,
        tickmode="array", tickvals=X_TICKS, ticktext=[str(v) for v in X_TICKS],
        showticklabels=xlabels, ticks="outside" if xticks else "", ticklen=6,
        tickcolor="#9A9A9A", tickwidth=1.3,
        showgrid=True, gridcolor=GRID, gridwidth=1.3,
        minor=dict(tickmode="array", tickvals=X_MINOR, showgrid=True, gridcolor=MINOR, gridwidth=0.9),
        showline=True, mirror=True, linecolor=BORDER, linewidth=1.6, zeroline=False,
        tickfont=TICKFONT, automargin=False, fixedrange=True)
    layout["yaxis" + sfx] = dict(
        domain=[1 - ybot / H, 1 - ytop / H], anchor="x" + sfx, range=yr,
        tickmode="array", tickvals=yt, ticktext=[str(v) for v in yt],
        showticklabels=ylabels, ticks="outside" if ylabels else "", ticklen=6,
        tickcolor="#9A9A9A", tickwidth=1.3,
        showgrid=True, gridcolor=GRID, gridwidth=1.3,
        minor=dict(tickmode="array", tickvals=ym, showgrid=True, gridcolor=MINOR, gridwidth=0.9),
        showline=True, mirror=True, linecolor=BORDER, linewidth=1.6, zeroline=False,
        tickfont=TICKFONT, automargin=False, fixedrange=True)
    return "x" + sfx, "y" + sfx, yr


def line(xa, ya, xs, ys, color, width):
    fig.add_trace(go.Scatter(x=xs, y=ys, xaxis=xa, yaxis=ya, mode="lines",
                             line=dict(color=color, width=width), hoverinfo="skip"))


def target_band(xa, ya):
    shapes.append(dict(type="rect", xref=xa, yref=ya, x0=0, x1=400, y0=TARGET_LO, y1=TARGET_HI,
                       fillcolor="#CCF7CC", line=dict(width=0), layer="between"))


def block_bands(xa, ya, yr):
    for a, b in zip(BAND_ON, BAND_OFF):
        shapes.append(dict(type="rect", xref=xa, yref=ya, x0=a, x1=b, y0=yr[0], y1=yr[1],
                           fillcolor="rgba(127,127,127,0.2)", line=dict(width=0), layer="between"))


def healthy(xa, ya, on, off, dbase, dtop, dpeak, gon, goff, gbase, gtop):
    gx, gy = steps(gon, goff, gbase, gtop, gtop)
    line(xa, ya, gx, gy, GRAY_H, 3.2)
    d2x, d2y = steps(on, off, dbase, dtop, dtop)
    line(xa, ya, d2x, d2y, DARK, 3.5)
    d1x, d1y = steps(on, off, dbase, dtop, dpeak)
    line(xa, ya, d1x, d1y, DARK, 3.2)


def strip(x0, x1, y0, y1, text, vertical=False):
    shapes.append(dict(type="rect", xref="paper", yref="paper", x0=x0 / W, x1=x1 / W,
                       y0=1 - y1 / H, y1=1 - y0 / H, fillcolor="white",
                       line=dict(color=STRIPLINE, width=3), layer="above"))
    annotations.append(dict(xref="paper", yref="paper", x=(x0 + x1) / 2 / W, y=1 - (y0 + y1) / 2 / H,
                            text="<b>" + text + "</b>", showarrow=False, textangle=90 if vertical else 0,
                            xanchor="center", yanchor="middle",
                            font=dict(family=FONT, size=24, color="black")))


def text(x, y, s, size, angle=0, bold=False, color="black"):
    annotations.append(dict(xref="paper", yref="paper", x=x / W, y=1 - y / H,
                            text=("<b>" + s + "</b>") if bold else s, showarrow=False, textangle=angle,
                            xanchor="center", yanchor="middle",
                            font=dict(family=FONT, size=size, color=color)))


# ------------------------------------------------------------------ force sections
force_sections = [
    dict(off=0, top="Healthy Subjects 1, 3, 5, 7", stroke="Stroke Subject 1",
         healthy=[[(A_LR_ON, A_LR_OFF, A_LR_DK_BASE, A_LR_DK_TOP, A_LR_DK_PEAK, A_LR_GR_ON, A_LR_GR_OFF, A_LR_GR_BASE, A_LR_GR_TOP),
                   (A_AR_ON, A_AR_OFF, A_AR_DK_BASE, A_AR_DK_TOP, A_AR_DK_PEAK, A_AR_GR_ON, A_AR_GR_OFF, A_AR_GR_BASE, A_AR_GR_TOP)],
                  [(A_LL_ON, A_LL_OFF, A_LL_DK_BASE, A_LL_DK_TOP, A_LL_DK_PEAK, A_LL_GR_ON, A_LL_GR_OFF, A_LL_GR_BASE, A_LL_GR_TOP),
                   (A_AL_ON, A_AL_OFF, A_AL_DK_BASE, A_AL_DK_TOP, A_AL_DK_PEAK, A_AL_GR_ON, A_AL_GR_OFF, A_AL_GR_BASE, A_AL_GR_TOP)]],
         strokes=[S1_RIGHT, S1_LEFT]),
    dict(off=477, top="Healthy Subjects 2, 4, 6, 8", stroke="Stroke Subject 2",
         healthy=[[(B_LR_ON, B_LR_OFF, B_LR_DK_BASE, B_LR_DK_TOP, B_LR_DK_PEAK, B_LR_GR_ON, B_LR_GR_OFF, B_LR_GR_BASE, B_LR_GR_TOP),
                   (B_AR_ON, B_AR_OFF, B_AR_DK_BASE, B_AR_DK_TOP, B_AR_DK_PEAK, B_AR_GR_ON, B_AR_GR_OFF, B_AR_GR_BASE, B_AR_GR_TOP)],
                  [(B_LL_ON, B_LL_OFF, B_LL_DK_BASE, B_LL_DK_TOP, B_LL_DK_PEAK, B_LL_GR_ON, B_LL_GR_OFF, B_LL_GR_BASE, B_LL_GR_TOP),
                   (B_AL_ON, B_AL_OFF, B_AL_DK_BASE, B_AL_DK_TOP, B_AL_DK_PEAK, B_AL_GR_ON, B_AL_GR_OFF, B_AL_GR_BASE, B_AL_GR_TOP)]],
         strokes=[S2_RIGHT, S2_LEFT]),
]
ROWS_F = [(93, 234), (248, 390)]
SIDE_F = ["Right", "Left"]

for sec, letter in zip(force_sections, ["A", "B"]):
    o = sec["off"]
    for r, (yt, yb) in enumerate(ROWS_F):
        yt, yb = yt + o, yb + o
        bottom = r == 1
        for c in range(3):
            xa, ya, yr = make_panel(c, yt, yb, "force", bottom, bottom, c == 0)
            target_band(xa, ya)
            if c < 2:
                healthy(xa, ya, *sec["healthy"][r][c])
            else:
                sx, sy = unzip(sec["strokes"][r])
                line(xa, ya, sx, sy, STROKE_C, 3.4)
        strip(RSTRIP[0], RSTRIP[1], yt, yb, SIDE_F[r], vertical=True)
    strip(75, 1152, 6 + o, 48 + o, sec["top"])
    strip(75, 610, 48 + o, 90 + o, "Limited")
    strip(617, 1152, 48 + o, 90 + o, "Amplified")
    strip(1215, 1749, 6 + o, 48 + o, sec["stroke"])
    strip(1215, 1749, 48 + o, 90 + o, "Limited")
    text(27, 27 + o, letter, 45, bold=True)
    text(17, (ROWS_F[0][0] + ROWS_F[1][1]) / 2 + o, "Force (% MVC)", 25, angle=-90)
    text(911, 438 + o, "Time (s)", 25)

# ------------------------------------------------------------------ motion section
MOTION_NAMES = ["X", "Y", "Z", "Roll", "Pitch", "Yaw", "FD"]
MOTION_DATA = [
    [HL_X, HA_X, SL_X], [HL_Y, HA_Y, SL_Y], [HL_Z, HA_Z, SL_Z], [HL_ROLL, HA_ROLL, SL_ROLL],
    [HL_PITCH, HA_PITCH, SL_PITCH], [HL_YAW, HA_YAW, SL_YAW], [HL_FD, HA_FD, SL_FD]]
ROWS_M = [(1046, 1146), (1160, 1260), (1274, 1374), (1388, 1488), (1503, 1603), (1617, 1717), (1752, 1859)]

for r, (yt, yb) in enumerate(ROWS_M):
    kind = "fd" if r == 6 else "motion"
    for c in range(3):
        xa, ya, yr = make_panel(c, yt, yb, kind, r == 6, r >= 5, c == 0)
        block_bands(xa, ya, yr)
        mx, my = unzip(MOTION_DATA[r][c])
        line(xa, ya, mx, my, MOTION_C, 3)
    strip(RSTRIP[0], RSTRIP[1], yt, yb, MOTION_NAMES[r], vertical=True)

strip(75, 1152, 960, 1002, "Healthy Subject 2")
strip(75, 610, 1002, 1044, "Limited")
strip(617, 1152, 1002, 1044, "Amplified")
strip(1215, 1749, 960, 1002, "Stroke Subject 1, Scan 1")
strip(1215, 1749, 1002, 1044, "Limited")
text(27, 980, "C", 45, bold=True)
text(17, (1046 + 1717) / 2, "Motion (mm)", 25, angle=-90)
text(911, 1907, "Time (s)", 25)

fig.update_layout(
    template="none", width=W, height=H, margin=dict(l=0, r=0, t=0, b=0, pad=0),
    paper_bgcolor="white", plot_bgcolor="white", showlegend=False,
    font=dict(family=FONT, size=21, color="#4D4D4D"),
    shapes=shapes, annotations=annotations, **layout)

fig.write_html("out.html", config={"displayModeBar": False, "staticPlot": True},
               post_script="document.body.style.margin='0px';document.body.style.overflow='hidden';")
